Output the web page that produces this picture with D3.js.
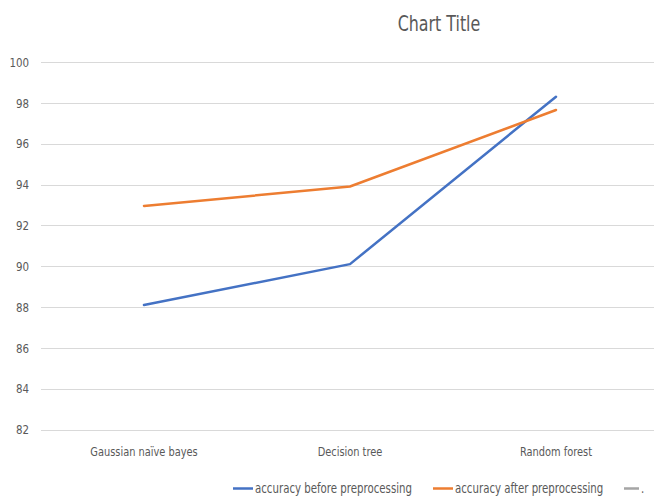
<!DOCTYPE html>
<html><head><meta charset="utf-8">
<script src="https://cdn.jsdelivr.net/npm/d3@7"></script>
<style>
html,body{margin:0;padding:0;background:#fff;}
svg{display:block;}
text{font-family:"DejaVu Sans",sans-serif;font-stretch:condensed;fill:#595959;}
</style></head>
<body>
<script>
const categories = ["Gaussian naïve bayes", "Decision tree", "Random forest"];
const seriesNames = ["accuracy before preprocessing", "accuracy after preprocessing", "."];
const before = [88.1, 90.1, 98.3];
const after = [92.95, 93.9, 97.65];
const yTicks = [82, 84, 86, 88, 90, 92, 94, 96, 98, 100];
const title = "Chart Title";

const W = 654, H = 496;
const svg = d3.select("body").append("svg").attr("width", W).attr("height", H);

function squeeze(sel, f) {
  sel.each(function () {
    const L = this.getComputedTextLength();
    d3.select(this).attr("textLength", (L * f).toFixed(1)).attr("lengthAdjust", "spacingAndGlyphs");
  });
}

const x = d3.scaleBand().domain(categories).range([41, 659]);
const y = d3.scaleLinear().domain([82, 100]).range([429.5, 62]);

svg.append("g").selectAll("line").data(yTicks).join("line")
  .attr("x1", 41).attr("x2", W)
  .attr("y1", d => Math.round(y(d)) + 0.5).attr("y2", d => Math.round(y(d)) + 0.5)
  .attr("stroke", "#d9d9d9").attr("stroke-width", 1);

const yAxis = d3.axisLeft(y).tickValues(yTicks).tickSize(0).tickPadding(0);
const ya = svg.append("g").attr("transform", "translate(29,0)").call(yAxis);
ya.select(".domain").remove();
ya.selectAll("text").style("font-size", "13px").attr("fill", "#595959");
squeeze(ya.selectAll("text"), 0.88);

const xAxis = d3.axisBottom(x).tickSize(0).tickPadding(0);
const xa = svg.append("g").attr("transform", "translate(0,447)").call(xAxis);
xa.select(".domain").remove();
xa.selectAll("text").style("font-size", "13px").attr("fill", "#595959");
squeeze(xa.selectAll("text"), 0.84);

const line = d3.line().x((d, i) => x(categories[i]) + x.bandwidth() / 2).y(d => y(d));
const colors = ["#4472C4", "#ED7D31", "#A5A5A5"];
[before, after].forEach((s, i) => {
  svg.append("path").datum(s).attr("d", line)
    .attr("fill", "none").attr("stroke", colors[i]).attr("stroke-width", 2.5)
    .attr("stroke-linejoin", "round").attr("stroke-linecap", "round");
});

const t = svg.append("text").attr("x", 439).attr("y", 31).attr("text-anchor", "middle")
  .style("font-size", "21px").text(title);
squeeze(t, 0.84);

const legX = [233, 433, 624];
const legLen = [20, 20, 15];
seriesNames.forEach((n, i) => {
  const g = svg.append("g");
  g.append("line").attr("x1", legX[i]).attr("x2", legX[i] + legLen[i])
    .attr("y1", 488.5).attr("y2", 488.5).attr("stroke", colors[i]).attr("stroke-width", 2.5);
  const tx = g.append("text").attr("x", legX[i] + legLen[i] + 2).attr("y", 493)
    .style("font-size", "13.5px").text(n);
  squeeze(tx, 0.84);
});
</script>
</body></html>
